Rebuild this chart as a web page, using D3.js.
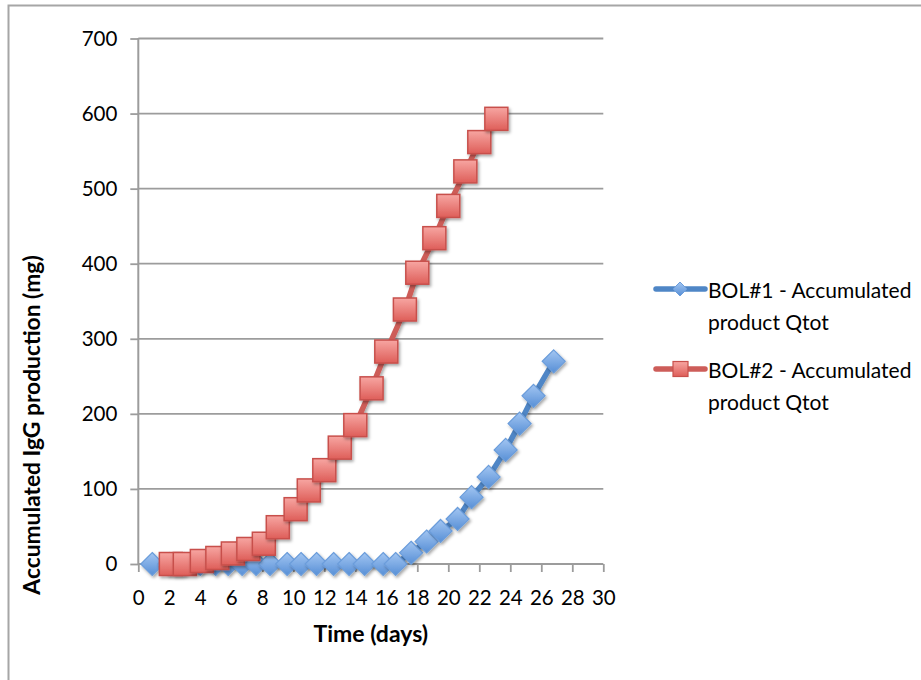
<!DOCTYPE html>
<html>
<head>
<meta charset="utf-8">
<script src="https://cdn.jsdelivr.net/npm/d3@7"></script>
<style>
  html, body { margin: 0; padding: 0; background: #fff; }
  svg { display: block; }
  text { font-family: Lato, "Open Sans", sans-serif; fill: #000; }
</style>
</head>
<body>
<div id="chart"></div>
<script>
// ---- data ----
const xTicks = [0, 2, 4, 6, 8, 10, 12, 14, 16, 18, 20, 22, 24, 26, 28, 30];
const yTicks = [0, 100, 200, 300, 400, 500, 600, 700];

const bol1Days = [0.9, 2.0, 3.0, 4.0, 5.0, 5.8, 6.7, 7.6, 8.5, 9.6, 10.5, 11.5, 12.6, 13.6, 14.6, 15.8, 16.6,
                  17.6, 18.6, 19.5, 20.6, 21.5, 22.6, 23.7, 24.6, 25.5, 26.8];
const bol1Qtot = [0, 0, 0, 0, 0, 0, 0, 0, 0, 0, 0, 0, 0, 0, 0, 0, 0,
                  15, 30, 44, 60, 89, 116, 152, 187, 224, 270];

const bol2Days = [2.1, 3.0, 4.1, 5.1, 6.1, 7.1, 8.1, 9.0, 10.15, 11.0, 12.0, 13.0, 14.0, 15.05, 16.0,
                  17.2, 18.0, 19.1, 20.0, 21.1, 22.0, 23.1];
const bol2Qtot = [0, 0, 4, 8, 14, 20, 27, 49, 73, 98, 125, 155, 185, 234, 283,
                  339, 388, 434, 477, 523, 562, 593];

const seriesNames = ["BOL#1 - Accumulated product Qtot", "BOL#2 - Accumulated product Qtot"];
const xTitle = "Time (days)";
const yTitle = "Accumulated IgG production (mg)";

// ---- layout ----
const W = 921, H = 680;
const plot = { left: 138.3, right: 603.3, top: 38.5, bottom: 564 };

const svg = d3.select("#chart").append("svg").attr("width", W).attr("height", H);
const defs = svg.append("defs");

const shadow = defs.append("filter").attr("id", "shadow")
  .attr("x", "-50%").attr("y", "-50%").attr("width", "200%").attr("height", "200%");
shadow.append("feDropShadow").attr("dx", 1.5).attr("dy", 2).attr("stdDeviation", 1.4)
  .attr("flood-color", "#000").attr("flood-opacity", 0.35);

const gBlue = defs.append("linearGradient").attr("id", "gBlue").attr("x1", 0).attr("y1", 0).attr("x2", 0).attr("y2", 1);
gBlue.append("stop").attr("offset", "0%").attr("stop-color", "#a3c6f2");
gBlue.append("stop").attr("offset", "100%").attr("stop-color", "#578fd6");
const gRed = defs.append("linearGradient").attr("id", "gRed").attr("x1", 0).attr("y1", 0).attr("x2", 0).attr("y2", 1);
gRed.append("stop").attr("offset", "0%").attr("stop-color", "#f7a6a2");
gRed.append("stop").attr("offset", "100%").attr("stop-color", "#de5e59");

// outer chart border (partially visible)
svg.append("path").attr("d", `M8.5,${H} L8.5,5.5 L${W},5.5`)
  .attr("fill", "none").attr("stroke", "#a6a6a6").attr("stroke-width", 2);

const x = d3.scaleLinear().domain([0, 30]).range([plot.left, plot.right]);
const y = d3.scaleLinear().domain([0, 700]).range([plot.bottom, plot.top]);

// gridlines
svg.append("g").selectAll("line").data(yTicks.filter(d => d > 0)).join("line")
  .attr("x1", plot.left).attr("x2", plot.right)
  .attr("y1", d => y(d)).attr("y2", d => y(d))
  .attr("stroke", "#9c9c9c").attr("stroke-width", 1.8);

// y axis
const yAxis = svg.append("g").attr("transform", `translate(${plot.left},0)`)
  .call(d3.axisLeft(y).tickValues(yTicks).tickSize(8).tickPadding(13).tickFormat(d3.format("d")));
yAxis.select(".domain").remove();
yAxis.selectAll(".tick line").attr("stroke", "#9c9c9c").attr("stroke-width", 1.8);
yAxis.selectAll(".tick text").attr("font-size", 20.5).attr("font-family", "Lato, 'Open Sans', sans-serif").attr("fill", "#000");
svg.append("line").attr("x1", plot.left).attr("x2", plot.left).attr("y1", plot.top - 0.5).attr("y2", plot.bottom)
  .attr("stroke", "#9c9c9c").attr("stroke-width", 2);

// x axis
const xAxis = svg.append("g").attr("transform", `translate(0,${plot.bottom})`)
  .call(d3.axisBottom(x).tickValues(xTicks).tickSize(8).tickPadding(18).tickFormat(d3.format("d")));
xAxis.select(".domain").attr("stroke", "#9c9c9c").attr("stroke-width", 2).attr("d", `M${plot.left},0H${plot.right}`);
xAxis.selectAll(".tick line").attr("stroke", "#9c9c9c").attr("stroke-width", 1.8);
xAxis.selectAll(".tick text").attr("font-size", 20.5).attr("font-family", "Lato, 'Open Sans', sans-serif").attr("fill", "#000");

// axis titles
svg.append("text").attr("x", (plot.left + plot.right) / 2).attr("y", 642)
  .attr("text-anchor", "middle").attr("font-size", 23).attr("font-weight", "bold").text(xTitle);
svg.append("text").attr("transform", "translate(40,425) rotate(-90)")
  .attr("text-anchor", "middle").attr("font-size", 22.8).attr("font-weight", "bold").text(yTitle);

// series
const s1 = bol1Days.map((d, i) => ({ t: d, q: bol1Qtot[i] }));
const s2 = bol2Days.map((d, i) => ({ t: d, q: bol2Qtot[i] }));
const line = d3.line().x(d => x(d.t)).y(d => y(d.q));

const diamond = r => `M0,${-r} L${r},0 L0,${r} L${-r},0 Z`;

// BOL#1 (blue, diamonds)
const g1 = svg.append("g");
g1.append("path").datum(s1).attr("d", line).attr("fill", "none")
  .attr("stroke", "#4f86c6").attr("stroke-width", 5.5).attr("stroke-linejoin", "round").attr("filter", "url(#shadow)");
g1.selectAll("path.m").data(s1).join("path").attr("class", "m")
  .attr("transform", d => `translate(${x(d.t)},${y(d.q)})`)
  .attr("d", diamond(11.5))
  .attr("fill", "url(#gBlue)").attr("stroke", "#6b9ddb").attr("stroke-width", 1.2)
  .attr("filter", "url(#shadow)");

// BOL#2 (red, squares)
const g2 = svg.append("g");
g2.append("path").datum(s2).attr("d", line).attr("fill", "none")
  .attr("stroke", "#cd5d59").attr("stroke-width", 5.5).attr("stroke-linejoin", "round").attr("filter", "url(#shadow)");
g2.selectAll("rect").data(s2).join("rect")
  .attr("x", d => x(d.t) - 11.5).attr("y", d => y(d.q) - 11.5)
  .attr("width", 23).attr("height", 23)
  .attr("fill", "url(#gRed)").attr("stroke", "#c8504c").attr("stroke-width", 1.5)
  .attr("filter", "url(#shadow)");

// legend
const legend = svg.append("g");
const legItems = [
  { name: seriesNames[0], color: "#4f86c6", y: 289, marker: "diamond" },
  { name: seriesNames[1], color: "#cd5d59", y: 369, marker: "square" }
];
legItems.forEach(it => {
  const g = legend.append("g");
  g.append("line").attr("x1", 656).attr("x2", 705).attr("y1", it.y).attr("y2", it.y)
    .attr("stroke", it.color).attr("stroke-width", 5.5).attr("stroke-linecap", "round");
  if (it.marker === "diamond") {
    g.append("path").attr("transform", `translate(680,${it.y})`).attr("d", diamond(7))
      .attr("fill", "url(#gBlue)").attr("stroke", "#6b9ddb").attr("stroke-width", 1);
  } else {
    g.append("rect").attr("x", 673).attr("y", it.y - 7.5).attr("width", 15).attr("height", 15)
      .attr("fill", "url(#gRed)").attr("stroke", "#c8504c").attr("stroke-width", 1.2);
  }
  const words = it.name.split(" ");
  const l1 = words.slice(0, 3).join(" ");
  const l2 = words.slice(3).join(" ");
  const t = g.append("text").attr("x", 708).attr("y", it.y + 9).attr("font-size", 21);
  t.append("tspan").attr("x", 708).text(l1);
  t.append("tspan").attr("x", 708).attr("dy", 32).text(l2);
});
</script>
</body>
</html>
